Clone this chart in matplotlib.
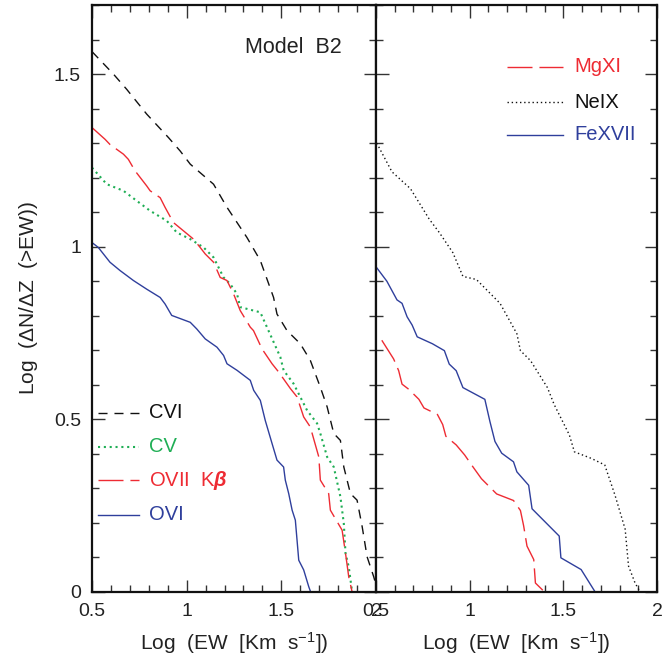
import matplotlib
matplotlib.use("Agg")
import matplotlib.pyplot as plt
from matplotlib.ticker import MultipleLocator, FuncFormatter

plt.rcParams['font.family'] = ['Liberation Sans', 'DejaVu Sans']
plt.rcParams['mathtext.fontset'] = 'custom'
plt.rcParams['mathtext.rm'] = 'Liberation Sans'
plt.rcParams['mathtext.it'] = 'Liberation Sans:italic'
plt.rcParams['mathtext.bf'] = 'Liberation Sans:bold:italic'

# ---------------- data (log EW, log dN/dZ(>EW)) ----------------
cvi_x = [0.50, 0.613, 0.683, 0.789, 0.904, 0.966, 1.019, 1.142, 1.213, 1.318, 1.389, 1.459,
         1.477, 1.530, 1.600, 1.653, 1.706, 1.742, 1.777, 1.812, 1.830, 1.865, 1.900, 1.927,
         1.953, 1.988, 2.01]
cvi_y = [1.565, 1.50, 1.456, 1.384, 1.316, 1.277, 1.239, 1.181, 1.114, 1.027, 0.960, 0.853,
         0.805, 0.757, 0.719, 0.671, 0.593, 0.536, 0.459, 0.439, 0.362, 0.285, 0.266, 0.189,
         0.102, 0.044, 0.0]

cv_x = [0.50, 0.578, 0.666, 0.736, 0.807, 0.895, 0.948, 1.019, 1.089, 1.142, 1.195, 1.230,
        1.266, 1.283, 1.389, 1.424, 1.495, 1.512, 1.565, 1.636, 1.689, 1.706, 1.742, 1.777,
        1.812, 1.830, 1.839, 1.856, 1.874]
cv_y = [1.229, 1.181, 1.162, 1.133, 1.104, 1.075, 1.041, 1.022, 0.998, 0.969, 0.911, 0.892,
        0.863, 0.825, 0.810, 0.767, 0.680, 0.642, 0.603, 0.526, 0.488, 0.459, 0.391, 0.362,
        0.276, 0.198, 0.112, 0.073, 0.0]

ovii_x = [0.50, 0.569, 0.595, 0.666, 0.692, 0.727, 0.789, 0.807, 0.860, 0.886, 0.930, 0.983,
          1.036, 1.071, 1.098, 1.142, 1.177, 1.213, 1.248, 1.283, 1.336, 1.353, 1.398, 1.451,
          1.486, 1.548, 1.583, 1.618, 1.653, 1.698, 1.706, 1.750, 1.759, 1.821, 1.839, 1.856,
          1.874]
ovii_y = [1.345, 1.311, 1.296, 1.268, 1.253, 1.220, 1.176, 1.162, 1.142, 1.114, 1.070, 1.046,
          1.022, 0.998, 0.979, 0.955, 0.911, 0.902, 0.863, 0.815, 0.767, 0.757, 0.704, 0.661,
          0.637, 0.589, 0.565, 0.507, 0.478, 0.391, 0.324, 0.285, 0.237, 0.179, 0.112, 0.044,
          0.0]

ovi_x = [0.50, 0.533, 0.595, 0.648, 0.719, 0.789, 0.860, 0.886, 0.921, 1.019, 1.053, 1.098,
         1.160, 1.195, 1.213, 1.266, 1.336, 1.354, 1.389, 1.415, 1.451, 1.477, 1.512, 1.521,
         1.539, 1.557, 1.574, 1.592, 1.618, 1.645, 1.655]
ovi_y = [1.012, 0.998, 0.955, 0.931, 0.902, 0.877, 0.853, 0.834, 0.801, 0.781, 0.762, 0.733,
         0.709, 0.685, 0.661, 0.642, 0.613, 0.584, 0.555, 0.497, 0.430, 0.382, 0.362, 0.324,
         0.285, 0.237, 0.208, 0.092, 0.064, 0.015, 0.0]

neix_x = [0.504, 0.585, 0.684, 0.784, 0.838, 0.910, 0.964, 1.036, 1.162, 1.252, 1.271, 1.325,
          1.415, 1.451, 1.532, 1.559, 1.649, 1.721, 1.776, 1.830, 1.848, 1.883, 1.91]
neix_y = [1.300, 1.217, 1.168, 1.080, 1.041, 0.983, 0.914, 0.905, 0.836, 0.748, 0.699, 0.670,
          0.592, 0.543, 0.455, 0.406, 0.387, 0.368, 0.280, 0.182, 0.075, 0.026, 0.0]

fexvii_x = [0.504, 0.558, 0.612, 0.639, 0.666, 0.693, 0.720, 0.801, 0.865, 0.891, 0.928, 0.964,
            1.081, 1.108, 1.135, 1.171, 1.234, 1.252, 1.315, 1.333, 1.478, 1.487, 1.595, 1.67]
fexvii_y = [0.939, 0.900, 0.846, 0.836, 0.797, 0.773, 0.739, 0.719, 0.699, 0.660, 0.641, 0.592,
            0.558, 0.494, 0.436, 0.402, 0.377, 0.348, 0.309, 0.241, 0.162, 0.099, 0.065, 0.0]

mgxi_x = [0.531, 0.594, 0.621, 0.639, 0.675, 0.729, 0.756, 0.828, 0.856, 0.873, 0.928, 0.973,
          1.018, 1.063, 1.144, 1.234, 1.271, 1.288, 1.306, 1.342, 1.351, 1.40]
mgxi_y = [0.729, 0.675, 0.641, 0.602, 0.587, 0.558, 0.533, 0.514, 0.485, 0.451, 0.426, 0.397,
          0.362, 0.328, 0.284, 0.265, 0.236, 0.192, 0.133, 0.094, 0.026, 0.0]

left_labels = ['CVI', 'CV', r'OVII  K$\mathbf{\beta}$', 'OVI']
right_labels = ['MgXI', 'NeIX', 'FeXVII']

# ---------------- styles ----------------
RED = '#ee2b33'
GREEN = '#1fae55'
BLUE = '#2f3f9c'
BLACK = '#111111'
st_cvi = dict(color=BLACK, lw=1.0, dashes=(6.5, 5))
st_cv = dict(color=GREEN, lw=1.5, dashes=(1, 1.8))
st_red = dict(color=RED, lw=1.0, dashes=(18, 5))
st_ovi = dict(color=BLUE, lw=1.0)
st_neix = dict(color=BLACK, lw=1.0, dashes=(1, 2))

fig = plt.figure(figsize=(6.63, 6.60), dpi=100)
W, H = 663, 660
axL = fig.add_axes([92 / W, 1 - 592 / H, 284 / W, 587 / H])
axR = fig.add_axes([376 / W, 1 - 592 / H, 281 / W, 587 / H])

fmt = FuncFormatter(lambda v, p: ('%g' % round(v, 3)))
for ax in (axL, axR):
    ax.set_xlim(0.5, 2.0)
    ax.set_ylim(0, 1.7)
    ax.xaxis.set_major_locator(MultipleLocator(0.5))
    ax.xaxis.set_minor_locator(MultipleLocator(0.1))
    ax.yaxis.set_major_locator(MultipleLocator(0.5))
    ax.yaxis.set_minor_locator(MultipleLocator(0.1))
    ax.xaxis.set_major_formatter(fmt)
    ax.yaxis.set_major_formatter(fmt)
    ax.tick_params(which='both', direction='in', top=True, right=True,
                   width=1.0, color='#333333', labelsize=14, labelcolor='#222222')
    ax.tick_params(which='major', length=9, pad=8)
    ax.tick_params(which='minor', length=5)
    for s in ax.spines.values():
        s.set_linewidth(1.6)
        s.set_color('#111111')
    ax.set_xlabel('Log  (EW  [Km  s$^{-1}$])', fontsize=15, color='#222222', labelpad=7)
axR.tick_params(labelleft=False)
axL.set_ylabel(r'Log  ($\Delta$N/$\Delta$Z  (>EW))', fontsize=15, color='#222222', labelpad=10)

axL.plot(cvi_x, cvi_y, **st_cvi)
axL.plot(cv_x, cv_y, **st_cv)
axL.plot(ovii_x, ovii_y, **st_red)
axL.plot(ovi_x, ovi_y, **st_ovi)

axR.plot(neix_x, neix_y, **st_neix)
axR.plot(fexvii_x, fexvii_y, **st_ovi)
axR.plot(mgxi_x, mgxi_y, **st_red)

axL.text(0.71, 0.928, 'Model  B2', transform=axL.transAxes, ha='center', va='center',
         fontsize=15.5, color='#222222')

# left legend
lx0, lx1, tx = 0.02, 0.165, 0.20
ys = [(592 - 413) / 587, (592 - 447) / 587, (592 - 480) / 587, (592 - 515) / 587]
styles = [st_cvi, st_cv, st_red, st_ovi]
colors = [BLACK, GREEN, RED, BLUE]
for y, lab, st, c in zip(ys, left_labels, styles, colors):
    axL.plot([lx0, lx1], [y, y], transform=axL.transAxes, clip_on=False, **st)
    axL.text(tx, y, lab, transform=axL.transAxes, ha='left', va='center',
             fontsize=14.5, color=c)

# right legend
rx0, rx1, rtx = (507 - 376) / 281, (563 - 376) / 281, (574 - 376) / 281
rys = [(592 - 67) / 587, (592 - 102) / 587, (592 - 135) / 587]
rstyles = [st_red, st_neix, st_ovi]
rcolors = [RED, BLACK, BLUE]
for y, lab, st, c in zip(rys, right_labels, rstyles, rcolors):
    axR.plot([rx0, rx1], [y, y], transform=axR.transAxes, clip_on=False, **st)
    axR.text(rtx, y, lab, transform=axR.transAxes, ha='left', va='center',
             fontsize=14.5, color=c)

fig.savefig('out.png', dpi=100)
